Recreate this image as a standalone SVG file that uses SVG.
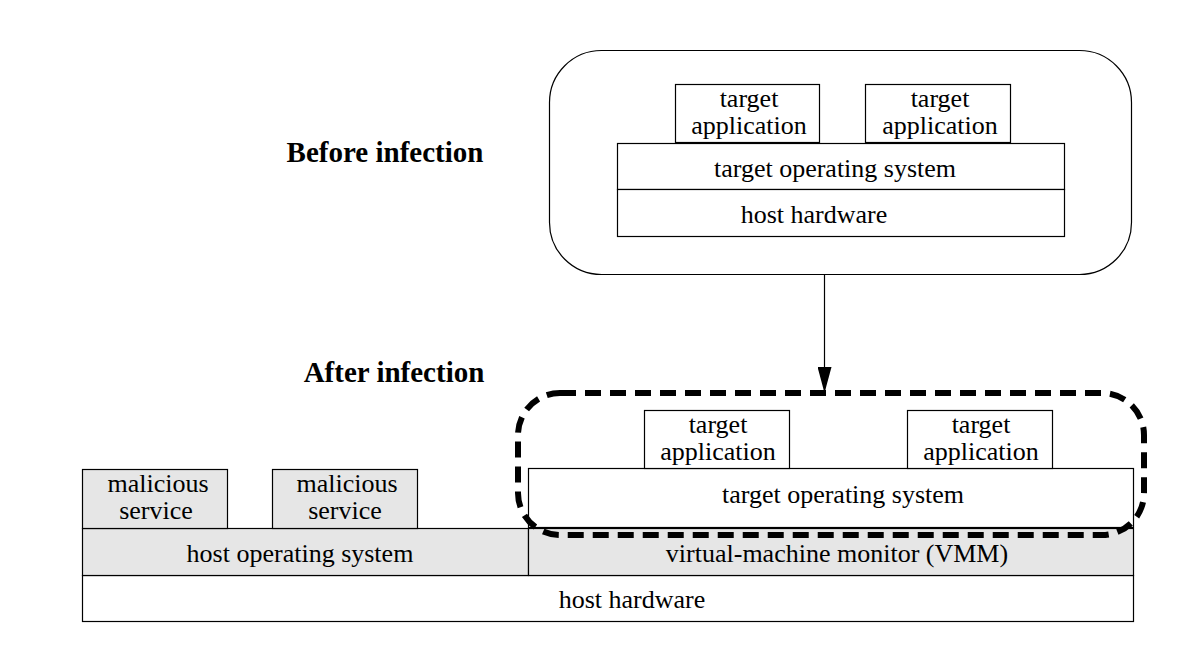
<svg xmlns="http://www.w3.org/2000/svg" width="1201" height="647" viewBox="0 0 1201 647">
<defs>
<style>
.box{stroke:#000;stroke-width:1.2}
.w{fill:#fff}
.g{fill:#e6e6e6}
.t{font-family:"Liberation Serif","Times New Roman",serif;font-size:26px;fill:#000;text-anchor:middle}
.h{font-family:"Liberation Serif","Times New Roman",serif;font-size:29px;font-weight:bold;fill:#000;text-anchor:middle}
</style>
<marker id="arrBig" viewBox="0 0 26 14" refX="26" refY="7" markerWidth="26" markerHeight="14" markerUnits="userSpaceOnUse" orient="auto">
<path d="M0,0 L26,7 L0,14 z" fill="#000"/>
</marker>
</defs>
<rect width="1201" height="647" fill="#fff"/>

<text class="h" x="385" y="162">Before infection</text>
<text class="h" x="394" y="382">After infection</text>

<g id="before">
<rect class="box" x="549.5" y="50.5" width="582" height="224" rx="52" fill="none"/>
<g id="b-app1"><rect class="box w" x="675.5" y="84.5" width="144" height="58"/><text class="t" x="749" y="107">target</text><text class="t" x="749" y="134">application</text></g>
<g id="b-app2"><rect class="box w" x="865.5" y="84.5" width="145" height="58"/><text class="t" x="940" y="107">target</text><text class="t" x="940" y="134">application</text></g>
<g id="b-os"><rect class="box w" x="617.5" y="143.5" width="447" height="46"/><text class="t" x="835" y="177">target operating system</text></g>
<g id="b-hw"><rect class="box w" x="617.5" y="189.5" width="447" height="47"/><text class="t" x="814" y="223">host hardware</text></g>
</g>

<g id="after">
<g id="a-hw"><rect class="box w" x="82.5" y="575.5" width="1051" height="46"/><text class="t" x="632" y="608">host hardware</text></g>
<g id="a-hostos"><rect class="box g" x="82.5" y="528.5" width="446" height="47"/><text class="t" x="300" y="562">host operating system</text></g>
<g id="a-vmm"><rect class="box g" x="528.5" y="528.5" width="605" height="47"/><text class="t" x="837" y="562">virtual-machine monitor (VMM)</text></g>
<g id="a-mal1"><rect class="box g" x="82.5" y="469.5" width="145" height="59"/><text class="t" x="158" y="492">malicious</text><text class="t" x="156" y="519">service</text></g>
<g id="a-mal2"><rect class="box g" x="272.5" y="469.5" width="145" height="59"/><text class="t" x="347" y="492">malicious</text><text class="t" x="345" y="519">service</text></g>
<g id="a-os"><rect class="box w" x="528.5" y="468.5" width="605" height="59"/><text class="t" x="843" y="503">target operating system</text></g>
<g id="a-app1"><rect class="box w" x="644.5" y="410.5" width="145" height="58"/><text class="t" x="718" y="433">target</text><text class="t" x="718" y="460">application</text></g>
<g id="a-app2"><rect class="box w" x="907.5" y="410.5" width="145" height="58"/><text class="t" x="981" y="433">target</text><text class="t" x="981" y="460">application</text></g>
<rect id="infected" x="518" y="393" width="626" height="142" rx="42" fill="none" stroke="#000" stroke-width="6" stroke-dasharray="16 9"/>
</g>

<g id="connectors">
<line x1="824.5" y1="274.5" x2="824.5" y2="393" stroke="#000" stroke-width="1.2" marker-end="url(#arrBig)"/>
</g>
</svg>
